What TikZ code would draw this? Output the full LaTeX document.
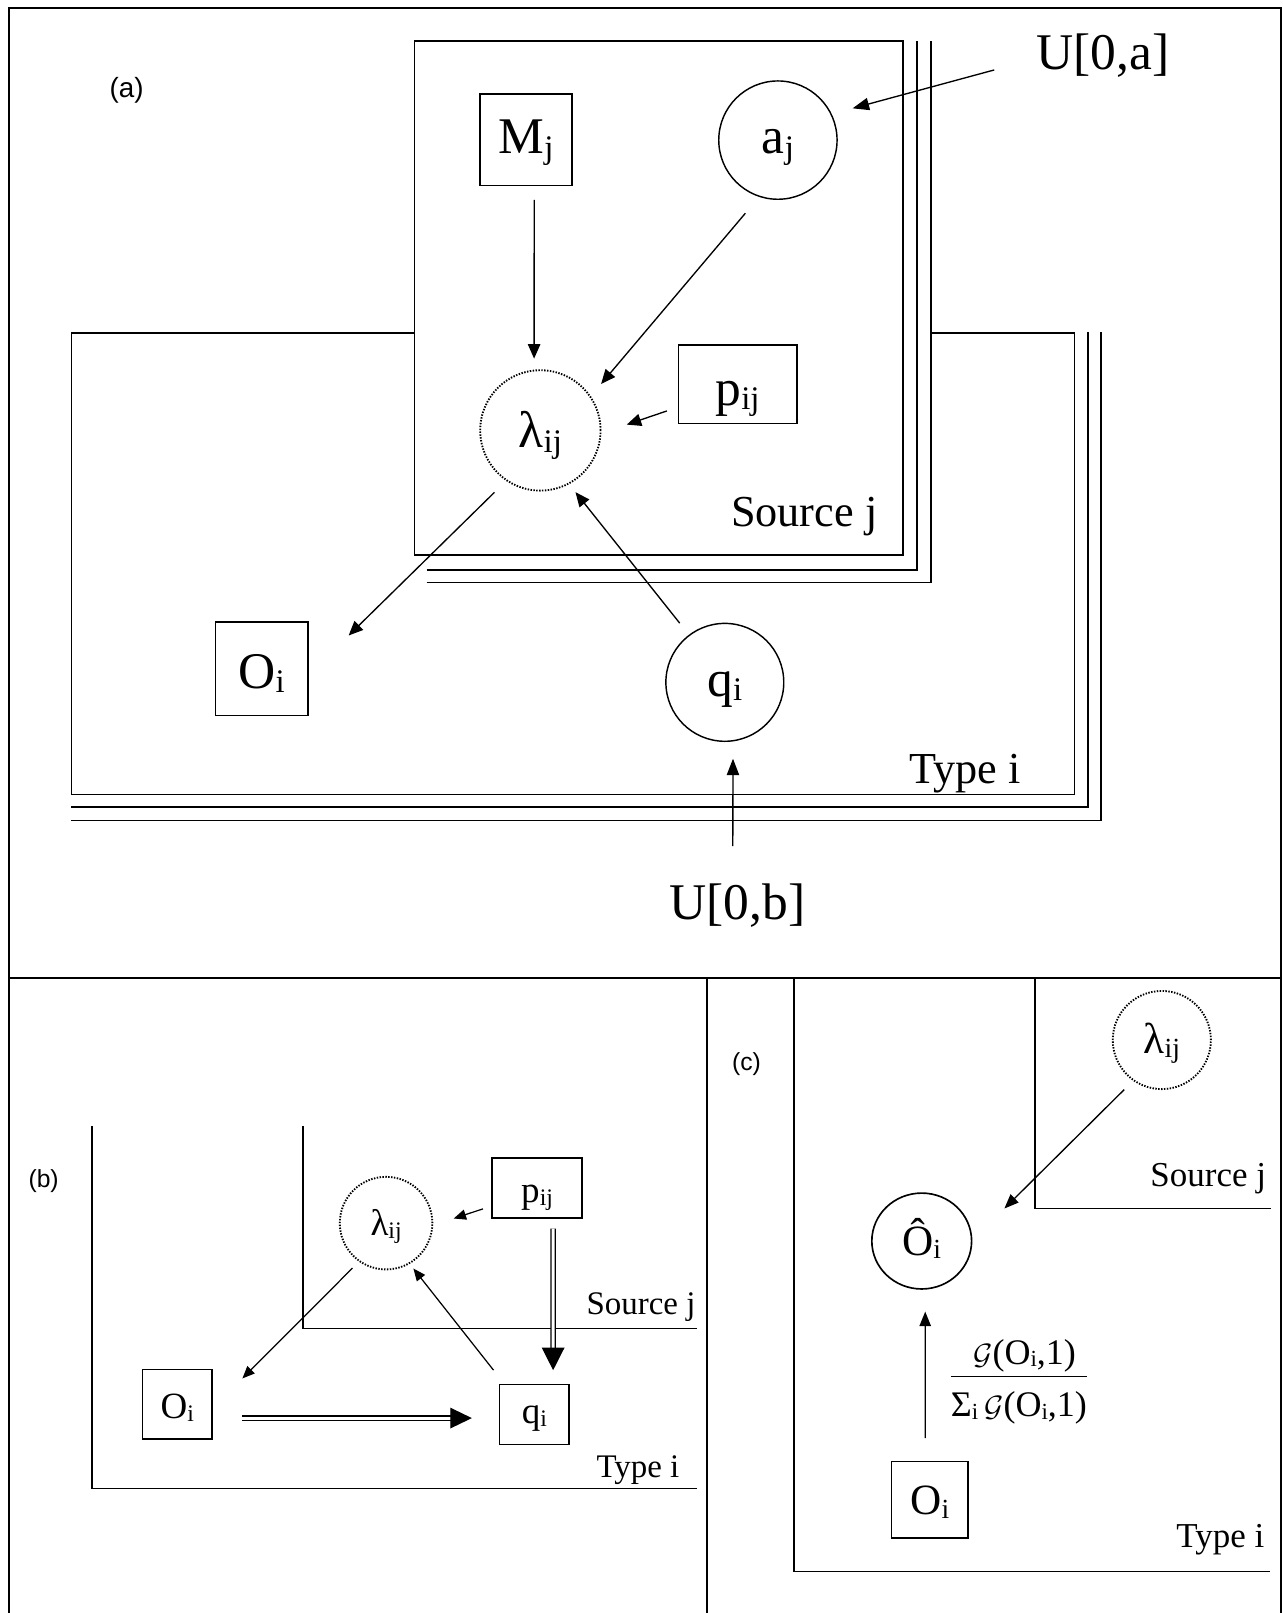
\documentclass[tikz,border=0pt]{standalone}
\usepackage{fontspec}
\setmainfont{Liberation Serif}
\newfontfamily\sansf{Liberation Sans}
\usepackage{graphicx}
\usetikzlibrary{arrows.meta,shapes.geometric,calc}
\newcommand\fs[1]{\fontsize{#1}{#1}\selectfont}
\newcommand\lo[1]{\raisebox{-0.08em}{\scalebox{0.64}{#1}}}
\newcommand\dn[2]{\raisebox{-#1}{#2}}
\newcommand\calG{\scalebox{1.15}{$\mathcal{G}$}}
\begin{document}
\begin{tikzpicture}[x=1pt,y=-1pt,
  frameline/.style={line width=2pt},
  divline/.style={line width=1.6pt},
  plate/.style={line width=1.5pt},
  tc/.style={text height=0pt,text depth=0pt},
  bx/.style={draw,rectangle,line width=1.4pt,inner sep=0pt,outer sep=0pt,tc},
  rv/.style={draw,circle,line width=1.4pt,inner sep=0pt,outer sep=0pt,tc},
  dv/.style={draw,circle,line width=1.8pt,inner sep=0pt,outer sep=0pt,tc,dash pattern=on 1.4pt off 1.4pt},
  lbl/.style={inner sep=0pt,outer sep=0pt},
  arrA/.style={line width=1.3pt,-{Triangle[length=14pt,width=12pt]}},
  arrU/.style={line width=1.3pt,-{Triangle[length=16pt,width=12pt]}},
  arrB/.style={line width=1.2pt,-{Triangle[length=12pt,width=10pt]}},
  arrC/.style={line width=1.3pt,-{Triangle[length=14pt,width=11pt]}},
  dblA/.style={double,double distance=3pt,line width=1.2pt,-{Triangle[length=22pt,width=22pt]}},
  dblB/.style={double,double distance=3pt,line width=1.2pt,-{Triangle[length=21pt,width=20pt]}}
]
\useasboundingbox (0,0) rectangle (1247,1568);

% outer frame and dividers
\draw[frameline] (8.6,1568) -- (8.6,7.5) -- (1245.3,7.5) -- (1245.3,1568);
\draw[divline] (8.6,951) -- (1245.3,951);
\draw[divline] (687,951) -- (687,1568);

% ---------------- panel (a) ----------------
\node[lbl,font=\sansf\fs{27}] (la) at (123,88) {(a)};

% Type i plate
\draw[plate] (402.8,323.9) -- (69.5,323.9) -- (69.5,772.3) -- (1044.5,772.3) -- (1044.5,323.9) -- (904.8,323.9);
\draw[plate] (69.5,784.4) -- (1057.8,784.4) -- (1057.8,322.5);
\draw[plate] (69.5,797.6) -- (1070.3,797.6) -- (1070.3,322.5);
% Source j plate
\draw[plate] (402.8,39.8) rectangle (877.8,539.4);
\draw[plate] (414.7,554) -- (891.2,554) -- (891.2,39.8);
\draw[plate] (414.7,566.2) -- (904.8,566.2) -- (904.8,39.8);

\node[bx,minimum width=89.2pt,minimum height=89.2pt,font=\fs{50}] (Mj) at (511.4,135.9) {\dn{13.7pt}{M\lo{j}}};
\node[rv,minimum size=115pt,font=\fs{50}] (aj) at (756.2,136.2) {\dn{13.4pt}{a\lo{j}}};
\node[dv,minimum size=117pt,font=\fs{50}] (lam) at (525.3,418.4) {\dn{17pt}{λ\lo{ij}}};
\node[bx,minimum width=115.3pt,minimum height=76.3pt,font=\fs{50}] (pa) at (717,373.7) {\dn{20pt}{p\lo{ij}}};
\node[bx,minimum width=90.1pt,minimum height=90.7pt,font=\fs{50}] (Oa) at (254.4,650) {\dn{19pt}{O\lo{i}}};
\node[rv,minimum size=114.6pt,font=\fs{50}] (qa) at (704.6,663.3) {\dn{13.6pt}{q\lo{i}}};

\node[lbl,font=\fs{50},anchor=base west] (Ua) at (1007.5,68) {U[0,a]};
\node[lbl,font=\fs{50},anchor=base west] (Ub) at (651,894) {U[0,b]};
\node[lbl,font=\fs{43},anchor=base east] (srca) at (852.8,512.2) {Source j};
\node[lbl,font=\fs{43},anchor=base east] (typa) at (992,762) {Type i};

\draw[arrU,shorten >=21.7pt] ([xshift=-41pt]Ua.base west) -- (aj.26.5);
\draw[arrA,shorten <=13.8pt,shorten >=11.6pt] ([xshift=7.9pt]Mj.south) -- (lam.96);
\draw[arrA,shorten <=21.5pt,shorten >=16.3pt] (aj.252) -- (lam.34.4);
\draw[arrA,shorten <=11.75pt,shorten >=27pt] ([yshift=-22pt]pa.west) -- (lam.-3.3);
\draw[arrA,shorten <=16.7pt,shorten >=55.3pt] (lam.236.3) -- ([yshift=-6.5pt]Oa.east);
\draw[arrA,shorten <=15.1pt,shorten >=10.7pt] (qa.127) -- (lam.-62.6);
\draw[arrU,shorten >=17.5pt] ([xshift=-4.6pt,yshift=71.4pt]Ub.base) -- (qa.-82.2);

% ---------------- panel (b) ----------------
\node[lbl,font=\sansf\fs{24}] (lb) at (42.4,1147.7) {(b)};
\draw[plate] (89.3,1095) -- (89.3,1447) -- (678,1447);
\draw[plate] (294.5,1095) -- (294.5,1291.4) -- (678,1291.4);

\node[dv,minimum size=90pt,font=\fs{36}] (lamb) at (375.3,1189) {\dn{11.8pt}{λ\lo{ij}}};
\node[bx,minimum width=87.4pt,minimum height=58.3pt,font=\fs{36}] (pb) at (522.1,1155) {\dn{14pt}{p\lo{ij}}};
\node[bx,minimum width=67.8pt,minimum height=57.9pt,font=\fs{36}] (qb) at (519.4,1375) {\dn{8.8pt}{q\lo{i}}};
\node[bx,minimum width=67.9pt,minimum height=67.7pt,font=\fs{36}] (Ob) at (172.3,1365) {\dn{13.5pt}{O\lo{i}}};
\node[lbl,font=\fs{32},anchor=base east] (srcb) at (676,1277.5) {Source j};
\node[lbl,font=\fs{32},anchor=base east] (typb) at (660.4,1436) {Type i};

\draw[arrB,shorten <=9.4pt,shorten >=21.9pt] ([yshift=-17.2pt]pb.west) -- (lamb.-3.7);
\draw[dblA,shorten <=10.1pt,shorten >=14.1pt] ([xshift=15.6pt]pb.south) -- ([xshift=18.3pt]qb.north);
\draw[arrB,shorten <=9.7pt,shorten >=41.6pt] (lamb.235.1) -- ([yshift=-4.4pt]Ob.east);
\draw[arrB,shorten <=18pt,shorten >=6.5pt] ([xshift=-28.5pt]qb.north) -- (lamb.-60.5);
\draw[dblB,shorten <=29.4pt,shorten >=26.8pt] ([yshift=-13.5pt]Ob.east) -- ([yshift=-3.5pt]qb.west);

% ---------------- panel (c) ----------------
\node[lbl,font=\sansf\fs{24}] (lc) at (725.6,1034.3) {(c)};
\draw[plate] (771.6,951) -- (771.6,1527.5) -- (1235,1527.5);
\draw[plate] (1006,951) -- (1006,1174.8) -- (1236,1174.8);

\node[dv,minimum size=95.4pt,font=\fs{42}] (lamc) at (1129.4,1011) {\dn{13.2pt}{λ\lo{ij}}};
\node[draw,ellipse,line width=1.6pt,inner sep=0pt,outer sep=0pt,tc,minimum width=97pt,minimum height=93.2pt,font=\fs{42}] (Oh) at (896,1206.4) {\dn{14pt}{Ô\lo{i}}};
\node[bx,minimum width=74.4pt,minimum height=74.4pt,font=\fs{42}] (Oc) at (903.8,1457.8) {\dn{14.6pt}{O\lo{i}}};
\node[lbl,font=\fs{34},anchor=base east] (srcc) at (1230.7,1153.8) {Source j};
\node[lbl,font=\fs{34},anchor=base east] (typc) at (1229,1504) {Type i};

\node[lbl,font=\fs{35},anchor=base] (num) at (996,1326) {\calG(O\lo{i},1)};
\node[lbl,font=\fs{35},anchor=base] (den) at (990.5,1377) {Σ\lo{i}\,\calG(O\lo{i},1)};
\draw[line width=1.3pt] ([yshift=14.5pt]den.north west) -- ([yshift=14.5pt]den.north east);

\draw[arrC,shorten <=13pt,shorten >=44.9pt] (lamc.235.4) -- (Oh.east);
\draw[arrC,shorten <=22.6pt,shorten >=22pt] ([xshift=-4.4pt]Oc.north) -- ([xshift=3.4pt]Oh.south);
\end{tikzpicture}
\end{document}
